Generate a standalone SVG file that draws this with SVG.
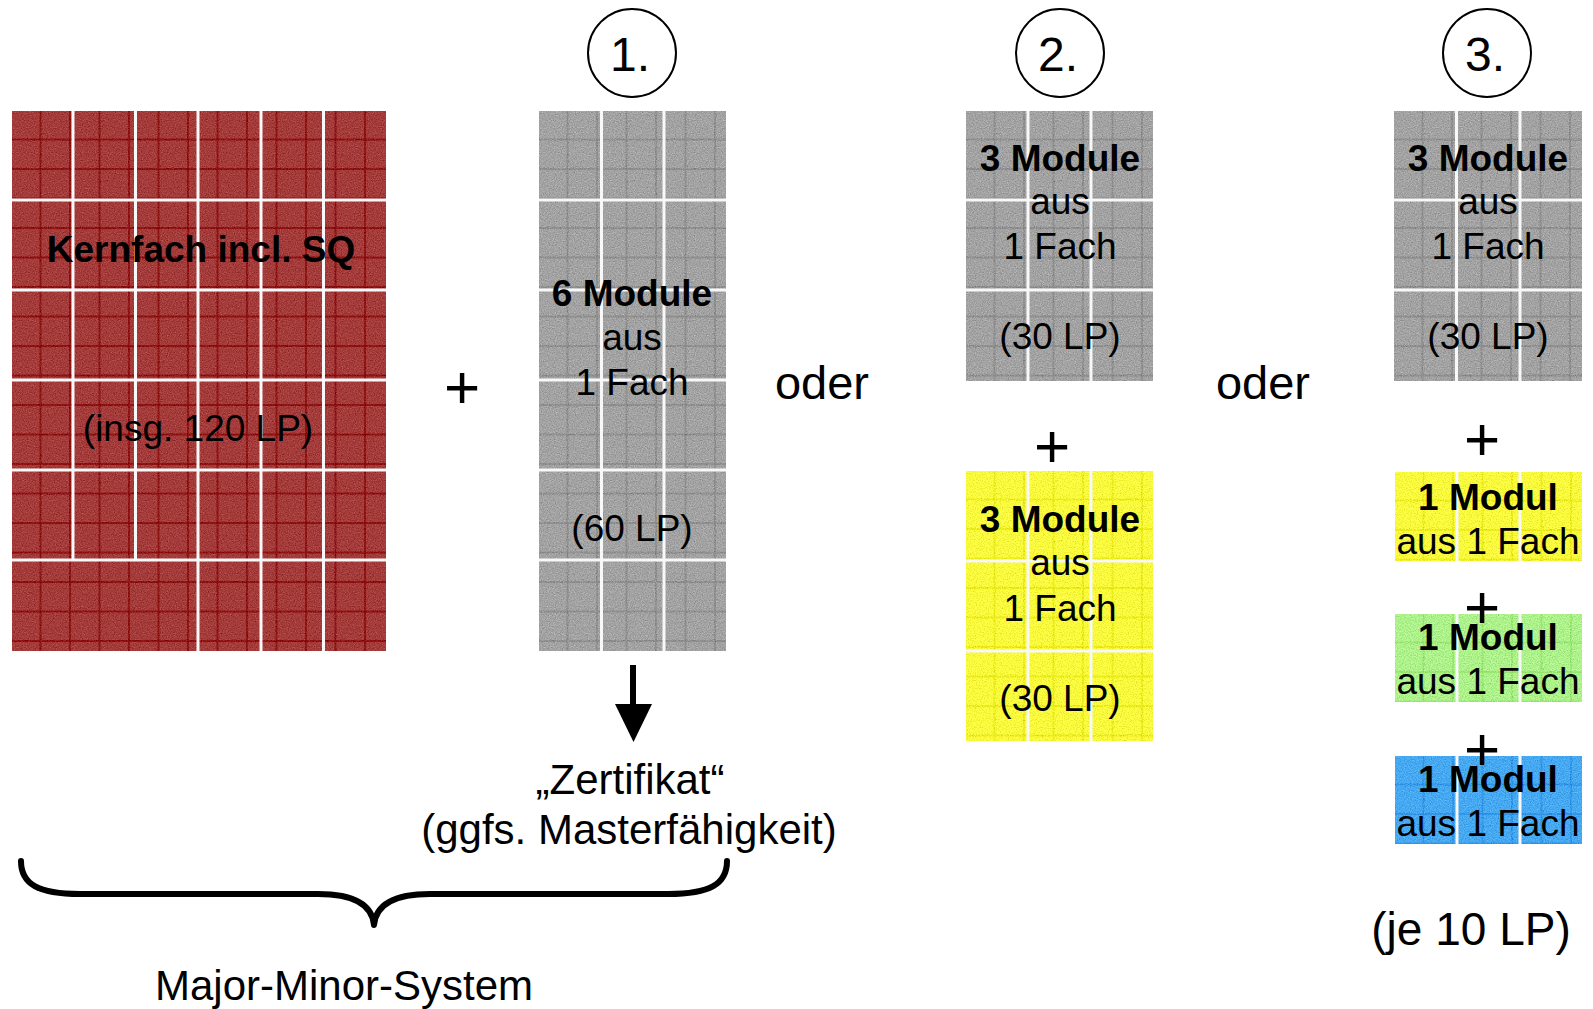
<svg xmlns="http://www.w3.org/2000/svg" width="1593" height="1009" viewBox="0 0 1593 1009">
<style>
text{font-family:"Liberation Sans",Arial,Helvetica,sans-serif;fill:#000;text-anchor:middle}
.b{font-weight:bold;font-size:37px}
.r{font-size:37px}
.big{font-size:42px}
.oder{font-size:47px}
.plus{font-size:62px}
.num{font-size:48px}
.sep{stroke:#f8f8f8;stroke-width:3;fill:none}
.circ{fill:#fff;stroke:#000;stroke-width:2}
</style>
<defs>
<filter id="grain" x="0" y="0" width="1" height="1" color-interpolation-filters="sRGB">
<feTurbulence type="fractalNoise" baseFrequency="0.85" numOctaves="2" seed="4" result="n"/>
<feColorMatrix in="n" type="matrix" values="0.33 0.33 0.33 0 0 0.33 0.33 0.33 0 0 0.33 0.33 0.33 0 0 0 0 0 0 1" result="g"/>
<feComposite in="SourceGraphic" in2="g" operator="arithmetic" k1="0" k2="1" k3="0.5" k4="-0.25" result="c"/>
<feComposite in="c" in2="SourceGraphic" operator="in"/>
</filter>
<pattern id="pRed" patternUnits="userSpaceOnUse" width="29.5" height="29.5"><rect width="29.5" height="29.5" fill="#a43c3c"/><path d="M28.5 0V29.5M0 28.5H29.5" stroke="#880404" stroke-width="1.4"/></pattern>
<pattern id="pGray" patternUnits="userSpaceOnUse" width="29.5" height="29.5"><rect width="29.5" height="29.5" fill="#a3a3a3"/><path d="M28.5 0V29.5M0 28.5H29.5" stroke="#888" stroke-width="1.4"/></pattern>
<pattern id="pYel" patternUnits="userSpaceOnUse" width="29.5" height="29.5"><rect width="29.5" height="29.5" fill="#fbfb3e"/><path d="M28.5 0V29.5M0 28.5H29.5" stroke="#e8e810" stroke-width="1.4"/></pattern>
<pattern id="pGrn" patternUnits="userSpaceOnUse" width="29.5" height="29.5"><rect width="29.5" height="29.5" fill="#aef28c"/><path d="M28.5 0V29.5M0 28.5H29.5" stroke="#92e468" stroke-width="1.4"/></pattern>
<pattern id="pBlu" patternUnits="userSpaceOnUse" width="29.5" height="29.5"><rect width="29.5" height="29.5" fill="#47a9f2"/><path d="M28.5 0V29.5M0 28.5H29.5" stroke="#2a90e6" stroke-width="1.4"/></pattern>
</defs>
<rect width="1593" height="1009" fill="#fff"/>

<g id="kernfach">
<g transform="translate(12,111)">
<rect width="374" height="540" fill="url(#pRed)" filter="url(#grain)"/>
<path class="sep" d="M61 0V449M123.5 0V449M186 0V540M249 0V540M311.5 0V540M0 89H374M0 179H374M0 269H374M0 359H374M0 449H374"/>
</g>
<text class="b" x="201" y="262">Kernfach incl. SQ</text>
<text class="r" x="198" y="441">(insg. 120 LP)</text>
</g>

<g id="plus-0"><text class="plus" x="462" y="408">+</text></g>

<g id="circle-1"><circle class="circ" cx="632" cy="53" r="44"/><text class="num" x="630" y="71">1.</text></g>
<g id="circle-2"><circle class="circ" cx="1060" cy="53" r="44"/><text class="num" x="1058" y="71">2.</text></g>
<g id="circle-3"><circle class="circ" cx="1487" cy="53" r="44"/><text class="num" x="1485" y="71">3.</text></g>

<g id="option-1">
<g transform="translate(539,111)">
<rect width="187" height="540" fill="url(#pGray)" filter="url(#grain)"/>
<path class="sep" d="M62.5 0V540M125 0V540M0 89H187M0 179H187M0 269H187M0 359H187M0 449H187"/>
</g>
<text class="b" x="632" y="306">6 Module</text>
<text class="r" x="632" y="350">aus</text>
<text class="r" x="632" y="395">1 Fach</text>
<text class="r" x="632" y="541">(60 LP)</text>
</g>

<g id="oder-1"><text class="oder" x="822" y="399">oder</text></g>

<g id="option-2a">
<g transform="translate(966,111)">
<rect width="187" height="270" fill="url(#pGray)" filter="url(#grain)"/>
<path class="sep" d="M62 0V270M125 0V270M0 89H187M0 179H187"/>
</g>
<text class="b" x="1060" y="171">3 Module</text>
<text class="r" x="1060" y="214">aus</text>
<text class="r" x="1060" y="259">1 Fach</text>
<text class="r" x="1060" y="349">(30 LP)</text>
</g>

<g id="plus-2"><text class="plus" x="1052" y="467">+</text></g>

<g id="option-2b">
<g transform="translate(966,471)">
<rect width="187" height="270" fill="url(#pYel)" filter="url(#grain)"/>
<path class="sep" d="M62 0V270M125 0V270M0 90H187M0 180H187"/>
</g>
<text class="b" x="1060" y="532">3 Module</text>
<text class="r" x="1060" y="575">aus</text>
<text class="r" x="1060" y="621">1 Fach</text>
<text class="r" x="1060" y="711">(30 LP)</text>
</g>

<g id="oder-2"><text class="oder" x="1263" y="399">oder</text></g>

<g id="option-3a">
<g transform="translate(1394,111)">
<rect width="188" height="270" fill="url(#pGray)" filter="url(#grain)"/>
<path class="sep" d="M62.5 0V270M126 0V270M0 89H188M0 179H188"/>
</g>
<text class="b" x="1488" y="171">3 Module</text>
<text class="r" x="1488" y="214">aus</text>
<text class="r" x="1488" y="259">1 Fach</text>
<text class="r" x="1488" y="349">(30 LP)</text>
</g>

<g id="plus-3a"><text class="plus" x="1482" y="460">+</text></g>

<g id="option-3b">
<g transform="translate(1395,472)">
<rect width="187" height="89" fill="url(#pYel)" filter="url(#grain)"/>
<path class="sep" d="M62 0V89M125 0V89"/>
</g>
<text class="b" x="1488" y="510">1 Modul</text>
<text class="r" x="1488" y="554">aus 1 Fach</text>
</g>

<g id="option-3c">
<g transform="translate(1395,614)">
<rect width="187" height="88" fill="url(#pGrn)" filter="url(#grain)"/>
<path class="sep" d="M62 0V88M125 0V88"/>
</g>
<text class="b" x="1488" y="650">1 Modul</text>
<text class="r" x="1488" y="694">aus 1 Fach</text>
</g>
<g id="plus-3b"><text class="plus" x="1482" y="628">+</text></g>

<g id="option-3d">
<g transform="translate(1395,756)">
<rect width="187" height="88" fill="url(#pBlu)" filter="url(#grain)"/>
<path class="sep" d="M62 0V88M125 0V88"/>
</g>
<text class="b" x="1488" y="792">1 Modul</text>
<text class="r" x="1488" y="836">aus 1 Fach</text>
</g>
<g id="plus-3c"><text class="plus" x="1482" y="770">+</text></g>

<g id="je10"><text style="font-size:46px" x="1471" y="945">(je 10 LP)</text></g>

<g id="zertifikat">
<text class="big" x="630" y="794">„Zertifikat“</text>
<text class="big" x="629" y="844">(ggfs. Masterfähigkeit)</text>
</g>

<g id="major-minor"><text class="big" x="344" y="1000">Major-Minor-System</text></g>

<g id="connectors">
<path d="M633 665V708" stroke="#000" stroke-width="6" fill="none"/>
<polygon points="615,704 652,704 633.5,742" fill="#000"/>
<path d="M21 861C21 884 38 894 80 894H318C352 894 372 904 374 925C376 904 396 894 430 894H668C710 894 727 884 727 861" stroke="#000" stroke-width="6" fill="none" stroke-linecap="round" stroke-linejoin="round"/>
</g>
</svg>
